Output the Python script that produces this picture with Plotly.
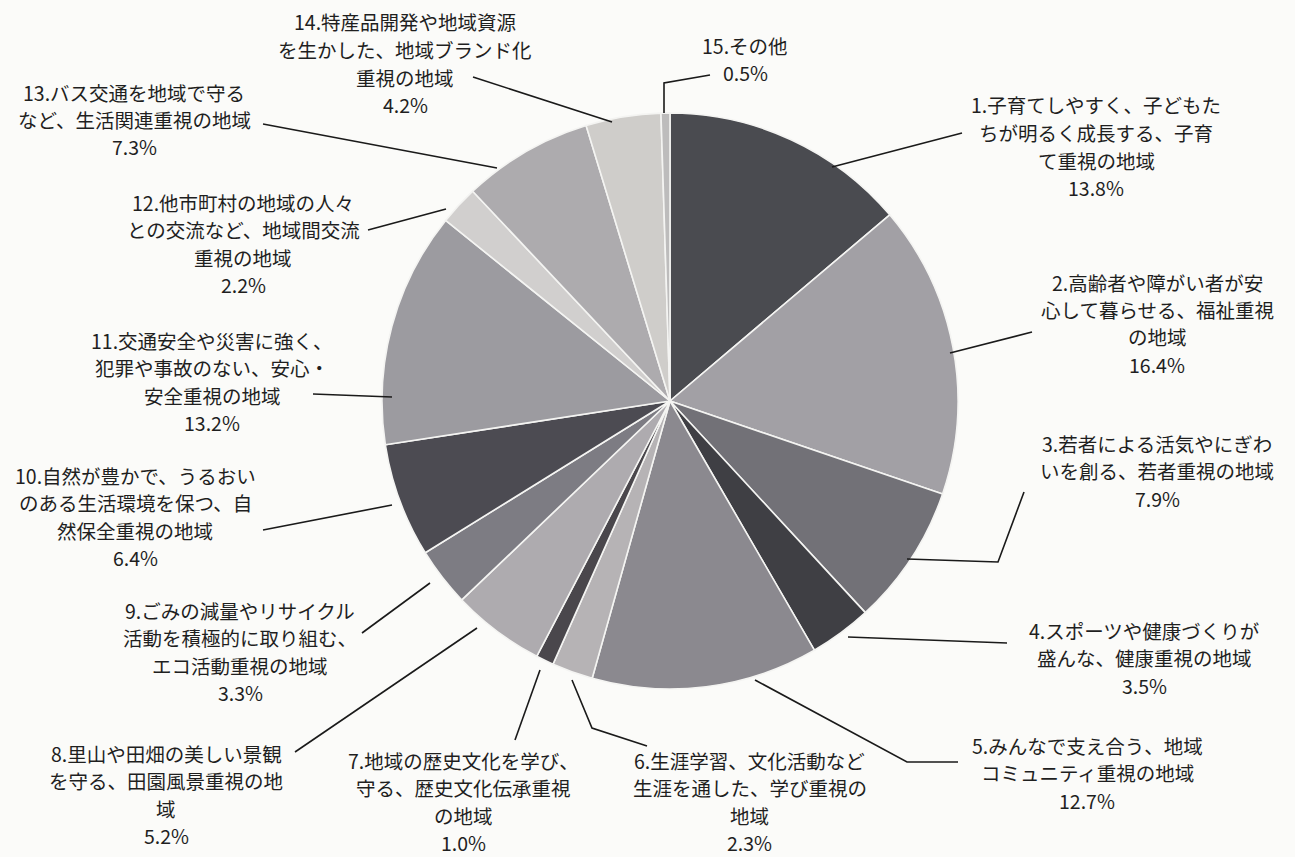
import plotly.graph_objects as go

# ---- data ----
categories = [
    "1.子育てしやすく、子どもたちが明るく成長する、子育て重視の地域",
    "2.高齢者や障がい者が安心して暮らせる、福祉重視の地域",
    "3.若者による活気やにぎわいを創る、若者重視の地域",
    "4.スポーツや健康づくりが盛んな、健康重視の地域",
    "5.みんなで支え合う、地域コミュニティ重視の地域",
    "6.生涯学習、文化活動など生涯を通した、学び重視の地域",
    "7.地域の歴史文化を学び、守る、歴史文化伝承重視の地域",
    "8.里山や田畑の美しい景観を守る、田園風景重視の地域",
    "9.ごみの減量やリサイクル活動を積極的に取り組む、エコ活動重視の地域",
    "10.自然が豊かで、うるおいのある生活環境を保つ、自然保全重視の地域",
    "11.交通安全や災害に強く、犯罪や事故のない、安心・安全重視の地域",
    "12.他市町村の地域の人々との交流など、地域間交流重視の地域",
    "13.バス交通を地域で守るなど、生活関連重視の地域",
    "14.特産品開発や地域資源を生かした、地域ブランド化重視の地域",
    "15.その他",
]
values = [13.8, 16.4, 7.9, 3.5, 12.7, 2.3, 1.0, 5.2, 3.3, 6.4, 13.2, 2.2, 7.3, 4.2, 0.5]

# label text as displayed (line-wrapped)
label_lines = [
    ["1.子育てしやすく、子どもた", "ちが明るく成長する、子育", "て重視の地域"],
    ["2.高齢者や障がい者が安", "心して暮らせる、福祉重視", "の地域"],
    ["3.若者による活気やにぎわ", "いを創る、若者重視の地域"],
    ["4.スポーツや健康づくりが", "盛んな、健康重視の地域"],
    ["5.みんなで支え合う、地域", "コミュニティ重視の地域"],
    ["6.生涯学習、文化活動など", "生涯を通した、学び重視の", "地域"],
    ["7.地域の歴史文化を学び、", "守る、歴史文化伝承重視", "の地域"],
    ["8.里山や田畑の美しい景観", "を守る、田園風景重視の地", "域"],
    ["9.ごみの減量やリサイクル", "活動を積極的に取り組む、", "エコ活動重視の地域"],
    ["10.自然が豊かで、うるおい", "のある生活環境を保つ、自", "然保全重視の地域"],
    ["11.交通安全や災害に強く、", "犯罪や事故のない、安心・", "安全重視の地域"],
    ["12.他市町村の地域の人々", "との交流など、地域間交流", "重視の地域"],
    ["13.バス交通を地域で守る", "など、生活関連重視の地域"],
    ["14.特産品開発や地域資源", "を生かした、地域ブランド化", "重視の地域"],
    ["15.その他"],
]

colors = ["#4a4b50", "#a2a0a5", "#727177", "#3f3f44", "#8b898f",
          "#b6b3b5", "#4a474c", "#aeabaf", "#7d7c83", "#4c4b52",
          "#9c9ba0", "#d1cfce", "#adabae", "#cfcdca", "#bdbcbc"]

# ---- layout styling (pixel positions) ----
W, H = 1295, 857
CX, CY, R = 670, 401, 288

# label block: (center x, first row y)
label_pos = [
    (1096, 105), (1157, 282), (1157, 443), (1144, 630), (1087, 745),
    (750, 760), (463, 760), (166, 753), (240, 610), (135, 475),
    (212, 340), (243, 202), (134, 92), (405, 22), (745, 45),
]
ROW = 27.5

leaders = [
    [(832, 167), (962, 133)],
    [(950, 353), (1032, 332)],
    [(907, 559), (998, 562), (1024, 492)],
    [(848, 637), (1007, 643)],
    [(755, 680), (907, 762), (958, 762)],
    [(572, 680), (592, 728), (647, 746)],
    [(540, 670), (515, 740)],
    [(477, 628), (295, 752)],
    [(430, 583), (362, 633)],
    [(392, 505), (263, 530)],
    [(392, 397), (313, 394)],
    [(446, 209), (368, 230)],
    [(497, 168), (263, 124)],
    [(612, 122), (473, 77)],
    [(664, 113), (664, 83), (710, 75)],
]

def px(x):
    return x / W

def py(y):
    return 1 - y / H

FONT = "Noto Sans CJK JP, Noto Sans, sans-serif"
TXT = "#1f1f1f"

fig = go.Figure(go.Pie(
    labels=categories,
    values=values,
    sort=False,
    direction="clockwise",
    rotation=0,
    marker=dict(colors=colors, line=dict(color="#f4f4f2", width=1.6)),
    textinfo="none",
    hoverinfo="label+percent",
    showlegend=False,
    domain=dict(x=[px(CX - R), px(CX + R)], y=[py(CY + R), py(CY - R)]),
))

annotations = []
for lines, v, (lx, ly) in zip(label_lines, values, label_pos):
    rows = lines + [f"{v:.1f}%"]
    for i, t in enumerate(rows):
        annotations.append(dict(
            x=px(lx), y=py(ly + i * ROW), xref="paper", yref="paper",
            text=t, showarrow=False, xanchor="center", yanchor="middle",
            font=dict(family=FONT, size=19.5, color=TXT),
        ))

shapes = []
for pts in leaders:
    path = "M " + " L ".join(f"{px(x)},{py(y)}" for x, y in pts)
    shapes.append(dict(type="path", xref="paper", yref="paper", path=path,
                       line=dict(color="#1a1a1a", width=1.6)))

fig.update_layout(
    width=W, height=H,
    margin=dict(l=0, r=0, t=0, b=0),
    paper_bgcolor="#fbfbf9",
    plot_bgcolor="#fbfbf9",
    annotations=annotations,
    shapes=shapes,
)

fig.write_html("out.html")
